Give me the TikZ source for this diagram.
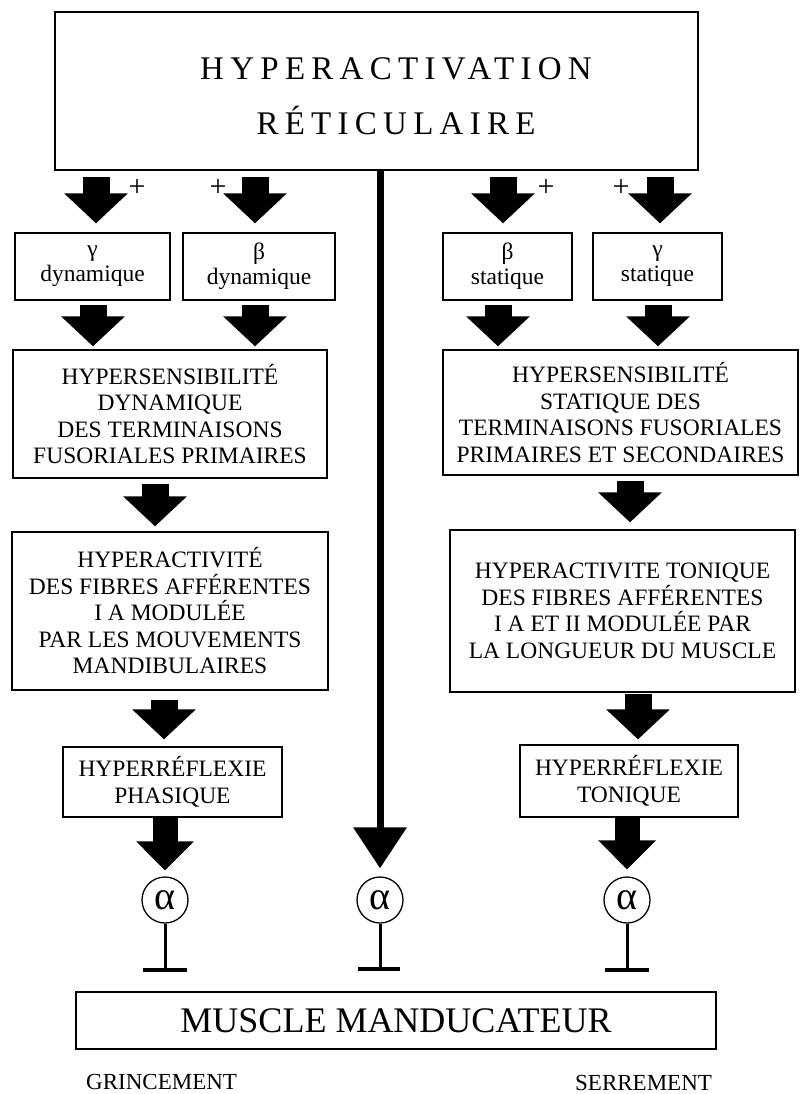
\documentclass[tikz,border=0pt]{standalone}
\usepackage{fontspec}
\setmainfont{Liberation Serif}
\newfontfamily\titlefont[LetterSpace=19]{Liberation Serif}
\usetikzlibrary{arrows.meta}
\newcommand{\alphaglyph}{\raisebox{-0.5\height}[0pt][0pt]{α}}
\begin{document}
\begin{tikzpicture}[x=1pt,y=-1pt,
  box/.style={draw, line width=1.3pt, inner sep=0pt, align=center,
    font=\fontsize{23.5}{26.5}\selectfont},
  smallbox/.style={box, font=\fontsize{23.5}{25}\selectfont},
  barrow/.style={line width=27pt, -{Triangle[width=62pt,length=30pt]}},
  circ/.style={draw, circle, minimum size=46pt, inner sep=0pt, line width=1.3pt,
    font=\fontsize{40}{40}\selectfont},
  plus/.style={font=\fontsize{30}{30}\selectfont, inner sep=0pt},
  caption/.style={font=\fontsize{23}{23}\selectfont, inner sep=0pt, anchor=base west}]
\useasboundingbox (0,0) rectangle (801,1094);

% boxes
\node[box, minimum width=643pt, minimum height=158pt] (top) at (376.5,91) {};
\node[font=\titlefont\fontsize{33}{55}\selectfont, align=center, inner sep=0pt] (title) at (396,96) {HYPERACTIVATION\\RÉTICULAIRE};

\node[smallbox, minimum width=155pt, minimum height=67pt] (g1) at (92.5,266.5) {γ\\dynamique};
\node[smallbox, minimum width=152pt, minimum height=67pt] (b1) at (259,266.5) {β\\dynamique};
\node[smallbox, minimum width=129pt, minimum height=67pt] (b2) at (507.5,266.5) {β\\statique};
\node[smallbox, minimum width=129pt, minimum height=67pt] (g2) at (657.5,266.5) {γ\\statique};

\node[box, minimum width=314pt, minimum height=128pt] (hsd) at (170,414)
  {HYPERSENSIBILITÉ\\DYNAMIQUE\\DES TERMINAISONS\\FUSORIALES PRIMAIRES};
\node[box, minimum width=355pt, minimum height=125pt] (hss) at (620.5,412.5)
  {HYPERSENSIBILITÉ\\STATIQUE DES\\TERMINAISONS FUSORIALES\\PRIMAIRES ET SECONDAIRES};

\node[box, minimum width=316pt, minimum height=158pt] (had) at (170,611)
  {HYPERACTIVITÉ\\DES FIBRES AFFÉRENTES\\I A MODULÉE\\PAR LES MOUVEMENTS\\MANDIBULAIRES};
\node[box, minimum width=345pt, minimum height=162pt] (hat) at (622.5,611)
  {HYPERACTIVITE TONIQUE\\DES FIBRES AFFÉRENTES\\I A ET II MODULÉE PAR\\LA LONGUEUR DU MUSCLE};

\node[box, minimum width=219pt, minimum height=70pt] (rp) at (172.5,782) {HYPERRÉFLEXIE\\PHASIQUE};
\node[box, minimum width=218pt, minimum height=72pt] (rt) at (629,781) {HYPERRÉFLEXIE\\TONIQUE};

\node[circ] (c1) at (165,900) {\alphaglyph};
\node[circ] (c2) at (380,900) {\alphaglyph};
\node[circ] (c3) at (627,900) {\alphaglyph};

\node[box, minimum width=640pt, minimum height=57pt, font=\fontsize{36}{36}\selectfont] (mus) at (396,1020.5) {MUSCLE MANDUCATEUR};

\node[caption] (grin) at (86,1089) {GRINCEMENT};
\node[caption] (serr) at (575,1090) {SERREMENT};

% x positions of arrows
\coordinate (xa1) at (96,0);
\coordinate (xa2) at (255,0);
\coordinate (xa3) at (503,0);
\coordinate (xa4) at (660,0);
\coordinate (xb1) at (93,0);
\coordinate (xb2) at (255,0);
\coordinate (xb3) at (498,0);
\coordinate (xb4) at (658,0);
\coordinate (xc1) at (155,0);
\coordinate (xc2) at (630,0);
\coordinate (xd1) at (164,0);
\coordinate (xd2) at (638,0);

% level 1 arrows
\draw[barrow, shorten <=6pt, shorten >=9pt] (top.south -| xa1) -- (g1.north -| xa1);
\draw[barrow, shorten <=6pt, shorten >=9pt] (top.south -| xa2) -- (b1.north -| xa2);
\draw[barrow, shorten <=6pt, shorten >=9pt] (top.south -| xa3) -- (b2.north -| xa3);
\draw[barrow, shorten <=6pt, shorten >=9pt] (top.south -| xa4) -- (g2.north -| xa4);
\node[plus] (p1) at (137,188) {+};
\node[plus] (p2) at (218,188) {+};
\node[plus] (p3) at (546,188) {+};
\node[plus] (p4) at (621,188) {+};

% level 2 arrows
\draw[barrow, shorten <=4pt, shorten >=3pt] (g1.south -| xb1) -- (hsd.north -| xb1);
\draw[barrow, shorten <=4pt, shorten >=3pt] (b1.south -| xb2) -- (hsd.north -| xb2);
\draw[barrow, shorten <=4pt, shorten >=3pt] (b2.south -| xb3) -- (hss.north -| xb3);
\draw[barrow, shorten <=4pt, shorten >=3pt] (g2.south -| xb4) -- (hss.north -| xb4);

% level 3 arrows
\draw[barrow, shorten <=5pt, shorten >=5pt] (hsd.south -| xc1) -- (had.north -| xc1);
\draw[barrow, shorten <=5pt, shorten >=7pt] (hss.south -| xc2) -- (hat.north -| xc2);

% level 4 arrows
\draw[barrow, shorten <=9pt, shorten >=7pt] (had.south -| xd1) -- (rp.north -| xd1);
\draw[barrow, shorten <=1pt, shorten >=5pt] (hat.south -| xd2) -- (rt.north -| xd2);

% level 5 arrows
\draw[line width=25pt, -{Triangle[width=56pt,length=29pt]}, shorten >=6pt] (rp.south -| c1) -- (c1.north);
\draw[line width=25pt, -{Triangle[width=56pt,length=29pt]}, shorten >=7pt] (rt.south -| c3) -- (c3.north);

% central arrow
\draw[line width=7pt, -{Triangle[width=52pt,length=41pt]}, shorten >=8pt] (top.south -| c2) -- (c2.north);

% inhibitory terminals
\coordinate (t1) at (0,970);
\coordinate (t2) at (0,969);
\coordinate (t3) at (0,970);
\draw[line width=3pt] (c1.south) -- (c1.south |- t1);
\draw[line width=3pt] (c2.south) -- (c2.south |- t2);
\draw[line width=3pt] (c3.south) -- (c3.south |- t3);
\draw[line width=4.5pt] ([xshift=-22pt]c1.south |- t1) -- ([xshift=22pt]c1.south |- t1);
\draw[line width=4.5pt] ([xshift=-22pt]c2.south |- t2) -- ([xshift=20pt]c2.south |- t2);
\draw[line width=4.5pt] ([xshift=-22pt]c3.south |- t3) -- ([xshift=22pt]c3.south |- t3);
\end{tikzpicture}
\end{document}
